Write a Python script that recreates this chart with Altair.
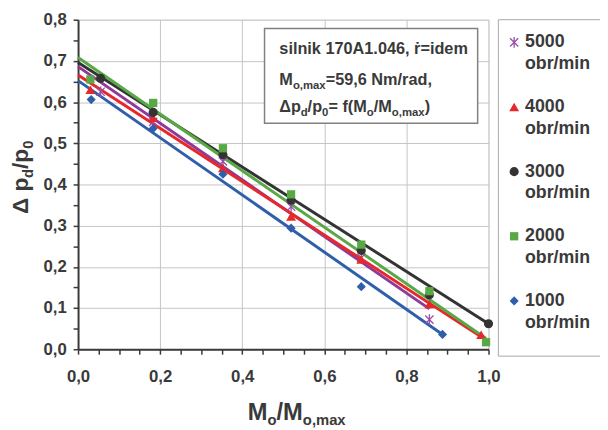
import altair as alt
import pandas as pd

# ---------------- data ----------------
series = ["5000", "4000", "3000", "2000", "1000"]
unit = "obr/min"
colors = ["#8E3A98", "#E6282B", "#333333", "#58A846", "#2F5EAB"]

x_5000 = [0.055, 0.183, 0.353, 0.519, 0.690, 0.856]
y_5000 = [0.625, 0.552, 0.456, 0.346, 0.222, 0.072]
x_4000 = [0.030, 0.183, 0.353, 0.519, 0.690, 0.856, 0.982]
y_4000 = [0.630, 0.562, 0.440, 0.322, 0.218, 0.110, 0.035]
x_3000 = [0.055, 0.183, 0.353, 0.519, 0.690, 0.856, 1.000]
y_3000 = [0.658, 0.575, 0.472, 0.362, 0.240, 0.132, 0.062]
x_2000 = [0.030, 0.183, 0.353, 0.519, 0.690, 0.856, 0.994]
y_2000 = [0.655, 0.598, 0.488, 0.376, 0.254, 0.141, 0.017]
x_1000 = [0.032, 0.183, 0.353, 0.519, 0.690, 0.888]
y_1000 = [0.606, 0.536, 0.425, 0.294, 0.152, 0.036]

# trend lines: value at x=0 and end point
fit_y0 = [0.686, 0.666, 0.696, 0.708, 0.652]
fit_x1 = [0.856, 0.982, 1.000, 0.994, 0.888]
fit_y1 = [0.098, 0.030, 0.062, 0.026, 0.036]

x_ticks = [round(i * 0.05, 2) for i in range(21)]
y_ticks = [round(i * 0.05, 2) for i in range(17)]

# ---------------- tables ----------------
pts_x = [x_5000, x_4000, x_3000, x_2000, x_1000]
pts_y = [y_5000, y_4000, y_3000, y_2000, y_1000]
rows = []
for s, xs, ys in zip(series, pts_x, pts_y):
    for a, b in zip(xs, ys):
        rows.append({"series": s, "x": a, "y": b})
pts = pd.DataFrame(rows)

lrows = []
for s, y0, x1, y1 in zip(series, fit_y0, fit_x1, fit_y1):
    lrows.append({"series": s, "x": 0.0, "y": y0, "o": 0})
    lrows.append({"series": s, "x": x1, "y": y1, "o": 1})
lines = pd.DataFrame(lrows)

dummy = pd.DataFrame({"a": [0]})

FONT = "Liberation Sans"
TXT = "#3a3a3a"
W_PLOT, H_PLOT = 416, 334
OX, OY = 79, 17  # page position of the plot origin

xaxis = alt.Axis(
    values=x_ticks, title=None, grid=True,
    gridOpacity={"condition": {"test": "abs(datum.value*5 - round(datum.value*5)) < 0.001", "value": 1}, "value": 0},
    gridColor="#c4c4c4", gridWidth=1,
    labelExpr="abs(datum.value*5 - round(datum.value*5)) < 0.001 ? replace(format(datum.value, '.1f'), '.', ',') : ''",
    labelFont=FONT, labelFontSize=17, labelFontWeight="bold", labelColor=TXT,
    labelPadding=15, labelOverlap=False, labelFlush=False, labelBound=False,
    domainColor="#3a3a3a", domainWidth=2, tickColor="#3a3a3a", tickWidth=1.5, tickSize=5,
)
yaxis = alt.Axis(
    values=y_ticks, title=None, grid=True,
    gridOpacity={"condition": {"test": "abs(datum.value*10 - round(datum.value*10)) < 0.001", "value": 1}, "value": 0},
    gridColor="#c4c4c4", gridWidth=1,
    labelExpr="abs(datum.value*10 - round(datum.value*10)) < 0.001 ? replace(format(datum.value, '.1f'), '.', ',') : ''",
    labelFont=FONT, labelFontSize=17, labelFontWeight="bold", labelColor=TXT,
    labelPadding=7, labelOverlap=False, labelFlush=False, labelBound=False,
    domainColor="#3a3a3a", domainWidth=2, tickColor="#3a3a3a", tickWidth=1.5, tickSize=5,
)
X = alt.X("x:Q", scale=alt.Scale(domain=[0, 1], nice=False, zero=False), axis=xaxis)
Y = alt.Y("y:Q", scale=alt.Scale(domain=[0, 0.8], nice=False, zero=False), axis=yaxis)
col = alt.Color("series:N", scale=alt.Scale(domain=series, range=colors), legend=None)

layers = []
layers.append(
    alt.Chart(lines).mark_line(strokeWidth=3).encode(
        x=X, y=Y, color=col, detail="series:N", order="o:Q")
)

shapes = ["M-1,-1L1,1M-1,1L1,-1M0,-1.3L0,1.3", "triangle-up", "circle", "square", "diamond"]
sizes = [70, 100, 85, 70, 85]
for s, c, sh, sz in zip(series, colors, shapes, sizes):
    filled = not sh.startswith("M")
    kw = dict(shape=sh, size=sz, filled=filled, opacity=1, color=c)
    if not filled:
        kw["strokeWidth"] = 1.3
        kw["color"] = "#9A4FAA"
    layers.append(
        alt.Chart(pts).transform_filter(alt.datum.series == s).mark_point(**kw).encode(x=X, y=Y)
    )

# ---------------- decorations (page coordinates) ----------------
W = {' ': .278, ',': .278, '.': .278, '/': .278, '=': .584, '(': .333, ')': .333,
     'A': .722, 'M': .833, 'N': .722, 'a': .556, 'b': .611, 'd': .611, 'e': .556,
     'f': .333, 'i': .278, 'k': .556, 'l': .278, 'm': .889, 'n': .611, 'o': .611,
     'p': .611, 'r': .389, 's': .556, 'x': .556, 'Δ': .70, 'ṙ': .389}


def tw(t, size):
    return sum(W.get(ch, .556) for ch in t) * size


def rect(x1, y1, x2, y2, stroke, sw):
    return alt.Chart(dummy).mark_rect(fill="white", stroke=stroke, strokeWidth=sw).encode(
        x=alt.value(x1 - OX), x2=alt.value(x2 - OX), y=alt.value(y1 - OY), y2=alt.value(y2 - OY))


def text(t, x, y, size, align="left", baseline="alphabetic", angle=0):
    return alt.Chart(dummy).mark_text(
        text=t, font=FONT, fontSize=size, fontWeight="bold", color=TXT,
        align=align, baseline=baseline, angle=angle).encode(
        x=alt.value(x - OX), y=alt.value(y - OY))


def runs(parts, x0, y0, vertical=False):
    out = []
    pos = x0 if not vertical else y0
    for t, size, shift in parts:
        if not vertical:
            out.append(text(t, pos, y0 + shift, size))
            pos += tw(t, size)
        else:
            out.append(text(t, x0 + shift, pos, size, angle=270))
            pos -= tw(t, size)
    return out

# annotation box
layers.append(rect(268, 26, 484, 122, "#808080", 1.5))
layers.append(text("silnik 170A1.046, ṙ=idem", 283, 52, 16.5))
layers += runs([("M", 16.5, 0), ("o,max", 11.5, 4), ("=59,6 Nm/rad,", 16.5, 0)], 283, 83)
layers += runs([("Δp", 16.5, 0), ("d", 11.5, 4), ("/p", 16.5, 0), ("0", 11.5, 4),
                ("= f(M", 16.5, 0), ("o", 11.5, 4), ("/M", 16.5, 0), ("o,max", 11.5, 4),
                (")", 16.5, 0)], 283, 111)

# legend
layers.append(rect(505, 17, 616, 358, "#a8a8a8", 1))
for i, (s, c, sh, sz) in enumerate(zip(series, colors, shapes, sizes)):
    yc = 40 + i * 65.5
    filled = not sh.startswith("M")
    kw = dict(shape=sh, size=sz, filled=filled, opacity=1, color=c)
    if not filled:
        kw["strokeWidth"] = 1.3
        kw["color"] = "#9A4FAA"
    layers.append(alt.Chart(dummy).mark_point(**kw).encode(x=alt.value(521 - OX), y=alt.value(yc - OY)))
    layers.append(text(s, 532, yc, 18, baseline="middle"))
    layers.append(text(unit, 532, yc + 22, 18, baseline="middle"))

# axis titles
layers += runs([("M", 24, 0), ("o", 15, 5), ("/M", 24, 0), ("o,max", 15, 5)], 251, 423)
layers += runs([("Δ p", 23, 0), ("d", 15, 5), ("/p", 23, 0), ("0", 15, 5)], 28, 214, vertical=True)

chart = alt.layer(*layers).properties(
    width=W_PLOT, height=H_PLOT,
    autosize=alt.AutoSizeParams(type="none"),
    padding={"left": 71, "top": 9, "right": 113, "bottom": 79},
).configure_view(stroke=None).configure(background="white")

chart.save("out.html", embed_options={"renderer": "svg", "actions": False})
